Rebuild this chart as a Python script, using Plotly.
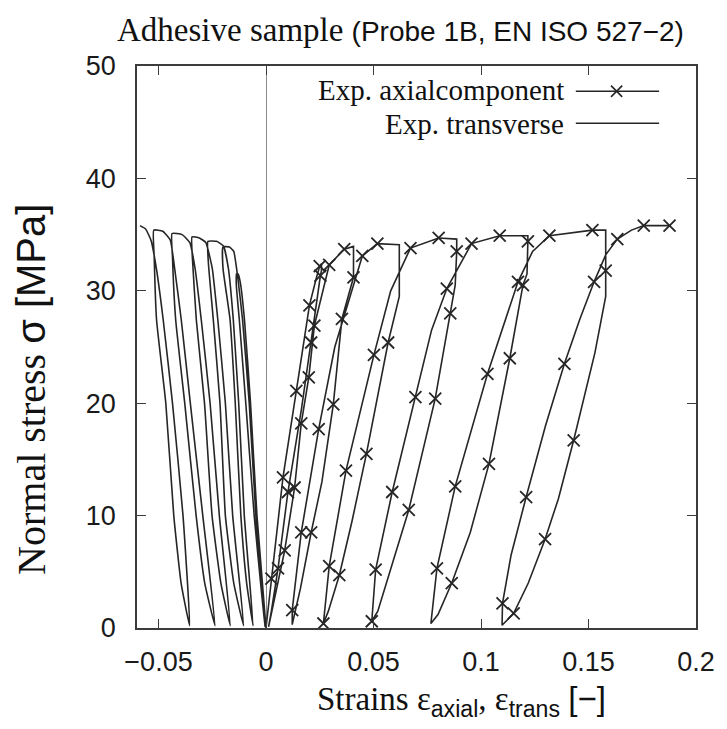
import plotly.graph_objects as go

# ---------------- data ----------------
# axial strain / stress path (continuous cyclic test)
axial_strain = [
    0.0, 0.0025, 0.0079, 0.0141, 0.0202, 0.0235, 0.0250, 0.0258,
    0.0258, 0.0253, 0.0210, 0.0165, 0.0102, 0.0056, 0.0025, 0.0012,
    0.0087, 0.0133, 0.0164, 0.0199, 0.0225, 0.0294, 0.0364, 0.0407,
    0.0407, 0.0353, 0.0313, 0.0260, 0.0210, 0.0160, 0.0130, 0.0122,
    0.0122, 0.0164, 0.0245, 0.0320, 0.0448, 0.0518, 0.0620,
    0.0620, 0.0568, 0.0467, 0.0400, 0.0341, 0.0290, 0.0267,
    0.0294, 0.0372, 0.0502, 0.0580, 0.0672, 0.0803, 0.0887,
    0.0887, 0.0880, 0.0857, 0.0787, 0.0664, 0.0570, 0.0520, 0.0492,
    0.0510, 0.0587, 0.0695, 0.0770, 0.0841, 0.0956, 0.1087, 0.1218,
    0.1218, 0.1214, 0.1195, 0.1134, 0.1037, 0.0950, 0.0864, 0.0800, 0.0767,
    0.0795, 0.0880, 0.1030, 0.1172, 0.1240, 0.1318, 0.1518, 0.1580,
    0.1580, 0.1580, 0.1530, 0.1431, 0.1360, 0.1298, 0.1220, 0.1152, 0.1098,
    0.1100, 0.1140, 0.1210, 0.1300, 0.1388, 0.1460, 0.1526, 0.1580,
    0.1634, 0.1700, 0.1757, 0.1820, 0.1877,
]
axial_stress = [
    0.0, 4.4, 13.4, 21.1, 28.7, 31.2, 32.2, 32.4,
    31.8, 31.35, 25.4, 19.5, 12.1, 5.3, 1.5, 0.1,
    6.9, 12.5, 18.2, 22.3, 26.9, 32.3, 33.7, 33.95,
    31.2, 27.5, 19.9, 13.0, 8.5, 3.5, 1.0, 0.3,
    1.6, 8.5, 17.7, 25.0, 33.1, 34.2, 34.1,
    29.5, 25.4, 15.5, 9.5, 4.7, 1.5, 0.4,
    5.5, 14.0, 24.3, 30.0, 33.8, 34.7, 34.6,
    33.5, 30.5, 28.0, 20.4, 10.5, 4.5, 1.5, 0.6,
    5.2, 12.1, 20.55, 26.5, 30.2, 34.2, 34.9, 34.9,
    34.4, 31.5, 30.5, 24.0, 14.6, 8.5, 4.0, 1.2, 0.4,
    5.3, 12.6, 22.6, 30.8, 33.5, 34.9, 35.4, 35.4,
    31.8, 29.5, 24.5, 16.7, 11.5, 7.9, 4.0, 1.3, 0.24,
    2.2, 6.5, 11.65, 18.0, 23.5, 27.5, 30.8, 33.2,
    34.6, 35.4, 35.8, 35.8, 35.8,
]

# positions of the "x" point symbols on the axial curve
mark_strain = [
    0.0025, 0.0079, 0.0141, 0.0202, 0.0250,
    0.0253, 0.0210, 0.0102, 0.0056,
    0.0087, 0.0133, 0.0164, 0.0199, 0.0225, 0.0294, 0.0364,
    0.0407, 0.0353, 0.0313, 0.0210,
    0.0122, 0.0164, 0.0245, 0.0448, 0.0518,
    0.0568, 0.0467, 0.0341, 0.0267,
    0.0294, 0.0372, 0.0502, 0.0672, 0.0803,
    0.0887, 0.0857, 0.0787, 0.0664, 0.0492,
    0.0510, 0.0587, 0.0695, 0.0841, 0.0956, 0.1087,
    0.1218, 0.1195, 0.1134, 0.1037, 0.0864,
    0.0795, 0.0880, 0.1030, 0.1172, 0.1318, 0.1518,
    0.1580, 0.1431, 0.1298, 0.1152,
    0.1100, 0.1210, 0.1388, 0.1526, 0.1634, 0.1757, 0.1877,
]
mark_stress = [
    4.4, 13.4, 21.1, 28.7, 32.2,
    31.35, 25.4, 12.1, 5.3,
    6.9, 12.5, 18.2, 22.3, 26.9, 32.3, 33.7,
    31.2, 27.5, 19.9, 8.5,
    1.6, 8.5, 17.7, 33.1, 34.2,
    25.4, 15.5, 4.7, 0.4,
    5.5, 14.0, 24.3, 33.8, 34.7,
    33.5, 28.0, 20.4, 10.5, 0.6,
    5.2, 12.1, 20.55, 30.2, 34.2, 34.9,
    34.4, 30.5, 24.0, 14.6, 4.0,
    5.3, 12.6, 22.6, 30.8, 34.9, 35.4,
    31.8, 16.7, 7.9, 1.3,
    2.2, 11.65, 23.5, 30.8, 34.6, 35.8, 35.8,
]

# transverse strain / stress path
trans_strain = [
    0.0, -0.0042, -0.0072, -0.0100, -0.0120, -0.0130, -0.0137,
    -0.0138, -0.0124, -0.0094, -0.0055, -0.0020, -0.0004,
    -0.0047, -0.0078, -0.0109, -0.0130, -0.0150, -0.0170, -0.0200,
    -0.0200, -0.0167, -0.0143, -0.0117, -0.0090, -0.0060,
    -0.0101, -0.0127, -0.0152, -0.0175, -0.0198, -0.0230, -0.0270,
    -0.0268, -0.0245, -0.0214, -0.0189, -0.0150, -0.0104,
    -0.0155, -0.0189, -0.0224, -0.0250, -0.0280, -0.0310, -0.0344,
    -0.0342, -0.0324, -0.0286, -0.0251, -0.0210, -0.0166,
    -0.0217, -0.0260, -0.0301, -0.0330, -0.0355, -0.0390, -0.0437,
    -0.0435, -0.0420, -0.0378, -0.0325, -0.0285, -0.0237,
    -0.0294, -0.0352, -0.0394, -0.0425, -0.0445, -0.0480, -0.0522,
    -0.0520, -0.0509, -0.0466, -0.0429, -0.0395, -0.0355,
    -0.0386, -0.0435, -0.0478, -0.0510, -0.0535, -0.0560, -0.0586,
]
trans_stress = [
    0.0, 10.0, 20.0, 27.4, 30.8, 31.5, 31.5,
    30.5, 27.4, 20.0, 10.0, 3.0, 0.1,
    10.0, 20.0, 27.4, 31.0, 33.5, 33.9, 33.9,
    32.0, 27.4, 20.0, 10.0, 4.0, 0.2,
    10.0, 20.0, 27.4, 32.0, 34.0, 34.4, 34.4,
    32.5, 27.4, 20.0, 10.0, 4.0, 0.2,
    10.0, 20.0, 27.4, 32.0, 34.3, 34.7, 34.8,
    32.8, 27.4, 20.0, 10.0, 4.0, 0.2,
    10.0, 20.0, 27.4, 32.0, 34.3, 35.0, 35.1,
    33.0, 27.4, 20.0, 10.0, 4.0, 0.2,
    10.0, 20.0, 27.4, 32.0, 34.5, 35.3, 35.4,
    33.0, 27.4, 20.0, 10.0, 4.0, 0.2,
    10.0, 20.0, 27.4, 32.0, 34.5, 35.5, 35.8,
]

x_ticks = [-0.05, 0.0, 0.05, 0.1, 0.15, 0.2]
x_tick_labels = ["\u22120.05", "0", "0.05", "0.1", "0.15", "0.2"]
y_ticks = [0, 10, 20, 30, 40, 50]
y_tick_labels = ["0", "10", "20", "30", "40", "50"]

legend_labels = ["Exp. axialcomponent", "Exp. transverse"]

# ---------------- styling ----------------
SERIF = "Liberation Serif, Times New Roman, serif"
SANS = "Liberation Sans, Arial, sans-serif"
INK = "#262626"
FRAME = "#3c3c3c"

fig = go.Figure()
fig.add_trace(go.Scatter(x=trans_strain, y=trans_stress, mode="lines",
                         line=dict(color=INK, width=1.6, shape="spline", smoothing=0.4),
                         showlegend=False, name=legend_labels[1]))
fig.add_trace(go.Scatter(x=axial_strain, y=axial_stress, mode="lines",
                         line=dict(color=INK, width=1.6), showlegend=False,
                         name=legend_labels[0]))
fig.add_trace(go.Scatter(x=mark_strain, y=mark_stress, mode="markers",
                         marker=dict(symbol="x-thin", size=12,
                                     line=dict(color=INK, width=1.8)),
                         showlegend=False))

axis_common = dict(ticks="inside", ticklen=9, tickwidth=1.4, tickcolor=FRAME,
                   showline=True, linecolor=FRAME, linewidth=1.8, mirror="ticks",
                   showgrid=False, tickfont=dict(family=SANS, size=27, color="#1a1a1a"))

fig.update_xaxes(range=[-0.06, 0.2], tickmode="array", tickvals=x_ticks,
                 ticktext=x_tick_labels, zeroline=True, zerolinecolor="#8a8a8a",
                 zerolinewidth=1.2, ticklabelstandoff=9, **axis_common)
fig.update_yaxes(range=[0, 50], tickmode="array", tickvals=y_ticks,
                 ticktext=y_tick_labels, zeroline=False, ticklabelstandoff=14,
                 **axis_common)

annotations = [
    dict(text=("<span style='font-family:Liberation Serif'>Adhesive sample</span> "
               "<span style='font-family:Liberation Sans;font-size:28px'>(Probe 1B, EN ISO 527\u22122)</span>"),
         x=0.472, y=1.064, xref="paper", yref="paper", showarrow=False,
         xanchor="center", yanchor="middle", font=dict(family=SERIF, size=33, color="#111")),
    dict(text=("Strains \u03b5<sub><span style='font-family:Liberation Sans'>axial</span></sub>, "
               "\u03b5<sub><span style='font-family:Liberation Sans'>trans</span></sub> "
               "<span style='font-family:Liberation Sans'>[\u2212]</span>"),
         x=0.58, y=-0.13, xref="paper", yref="paper", showarrow=False,
         xanchor="center", yanchor="middle", font=dict(family=SERIF, size=33, color="#111")),
    dict(text=("Normal stress <span style='font-family:Liberation Sans'>\u03c3 [MPa]</span>"),
         x=-0.19, y=0.425, xref="paper", yref="paper", showarrow=False, textangle=-90,
         xanchor="center", yanchor="middle", font=dict(family=SERIF, size=40, color="#111")),
    dict(text=legend_labels[0], x=0.768, y=0.957, xref="paper", yref="paper",
         showarrow=False, xanchor="right", yanchor="middle",
         font=dict(family=SERIF, size=29, color="#111")),
    dict(text=legend_labels[1], x=0.768, y=0.896, xref="paper", yref="paper",
         showarrow=False, xanchor="right", yanchor="middle",
         font=dict(family=SERIF, size=29, color="#111")),
]

shapes = [
    dict(type="line", xref="paper", yref="paper", x0=0.785, x1=0.934, y0=0.955, y1=0.955,
         line=dict(color=INK, width=1.6)),
    dict(type="line", xref="paper", yref="paper", x0=0.848, x1=0.868, y0=0.945, y1=0.965,
         line=dict(color=INK, width=1.6)),
    dict(type="line", xref="paper", yref="paper", x0=0.848, x1=0.868, y0=0.965, y1=0.945,
         line=dict(color=INK, width=1.6)),
    dict(type="line", xref="paper", yref="paper", x0=0.785, x1=0.934, y0=0.898, y1=0.898,
         line=dict(color=INK, width=1.6)),
]

# the page adds an 8 px body margin, so the figure is 8 px smaller and shifted
fig.update_layout(width=719, height=721, margin=dict(l=129, r=29, t=58, b=101),
                  plot_bgcolor="white", paper_bgcolor="white",
                  annotations=annotations, shapes=shapes, showlegend=False)

fig.write_html("out.html")
